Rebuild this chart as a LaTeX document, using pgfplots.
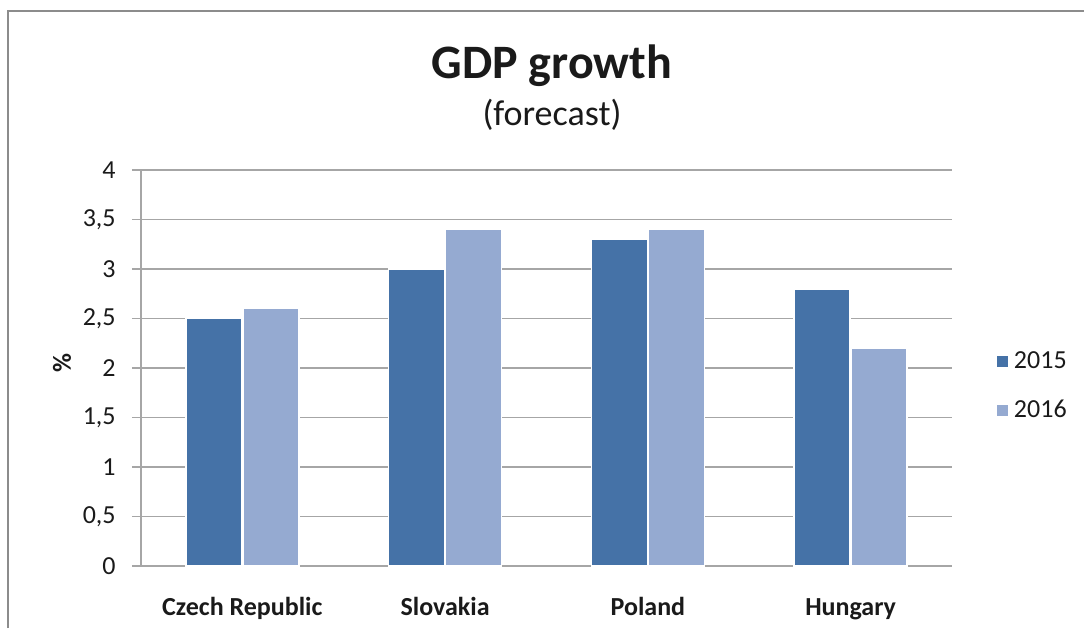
\documentclass[border=0pt]{standalone}
\usepackage{fontspec}
\setmainfont{Carlito}
\usepackage{pgfplots}
\pgfplotsset{compat=1.18}
\definecolor{cA}{HTML}{4572A7}
\definecolor{cB}{HTML}{95AAD1}
\definecolor{gridc}{HTML}{A6A6A6}
\definecolor{txt}{HTML}{1A1A1A}
\definecolor{framec}{HTML}{8C8C8C}
\begin{document}
\begin{tikzpicture}
\useasboundingbox (0,0) rectangle (542pt,314pt);
\draw[color=framec, line width=1.2pt] (4pt,0) -- (4pt,308.5pt) -- (542pt,308.5pt);
\node[anchor=base, text=txt, font=\fontsize{24}{28}\selectfont\bfseries] at (276pt,274.5pt) {GDP growth};
\node[anchor=base, text=txt, font=\fontsize{18}{21}\selectfont] at (276pt,251pt) {(forecast)};
\begin{axis}[
  at={(70.5pt,31pt)}, anchor=south west, scale only axis,
  width=405.5pt, height=198pt,
  ybar, bar width=28pt,
  xmin=-0.5, xmax=3.5, ymin=0, ymax=4,
  xtick={0,1,2,3},
  xticklabels={Czech Republic, Slovakia, Poland, Hungary},
  ytick={0,0.5,1,1.5,2,2.5,3,3.5,4},
  /pgf/number format/assume math mode=true,
  yticklabel style={/pgf/number format/.cd, use comma, fixed, /tikz/.cd, anchor=east, inner sep=0pt, xshift=-8pt},
  xticklabel style={font=\bfseries\fontsize{13}{15}\selectfont, anchor=base, yshift=-20pt},
  tick label style={text=txt, font=\fontsize{13}{15}\selectfont},
  ylabel={\%},
  ylabel style={at={(axis description cs:-0.0974,0.513)}, anchor=center, text=txt, font=\bfseries\fontsize{13}{15}\selectfont},
  ymajorgrids, grid style={gridc, line width=0.75pt},
  axis x line*=bottom, axis y line*=left,
  axis line style={gridc, line width=0.75pt},
  major tick length=4.5pt, tick align=outside,
  ytick style={gridc, line width=0.75pt},
  xtick style={draw=none},
  legend image code/.code={\fill[#1] (0pt,-3.25pt) rectangle (6.5pt,3.25pt);},
  legend style={draw=none, fill=none, at={(1.053,0.4545)}, anchor=west,
    font=\fontsize{13}{15}\selectfont, text=txt, row sep=10.5pt, inner sep=0pt},
  legend cell align=left,
]
\addplot[fill=cA, draw=white, line width=0.8pt, bar shift=-14.25pt] coordinates {(0,2.5) (1,3.0) (2,3.3) (3,2.8)};
\addplot[fill=cB, draw=white, line width=0.8pt, bar shift=14.25pt] coordinates {(0,2.6) (1,3.4) (2,3.4) (3,2.2)};
\legend{2015,2016}
\end{axis}
\end{tikzpicture}
\end{document}
